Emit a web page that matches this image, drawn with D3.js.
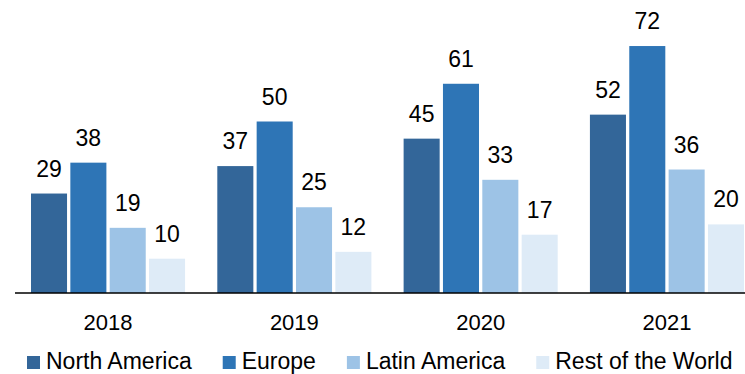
<!DOCTYPE html>
<html>
<head>
<meta charset="utf-8">
<script src="https://cdn.jsdelivr.net/npm/d3@7"></script>
<style>
  html, body { margin: 0; padding: 0; background: #fff; }
  svg { display: block; }
  text { font-family: "Liberation Sans", Arial, sans-serif; fill: #000; }
</style>
</head>
<body>
<svg id="chart" width="745" height="374"></svg>
<script>
// Yearly values by region
const years = ["2018", "2019", "2020", "2021"];
const regions = ["North America", "Europe", "Latin America", "Rest of the World"];
const northAmerica = [29, 37, 45, 52];
const europe = [38, 50, 61, 72];
const latinAmerica = [19, 25, 33, 36];
const restOfWorld = [10, 12, 17, 20];
const colors = ["#336699", "#2e75b6", "#9dc3e6", "#deebf7"];

const seriesValues = [northAmerica, europe, latinAmerica, restOfWorld];
const rows = years.map((yr, i) => ({
  year: yr,
  values: regions.map((r, k) => ({ region: r, value: seriesValues[k][i] }))
}));

const svg = d3.select("#chart");
const baseY = 293;

const x0 = d3.scaleBand().domain(years).range([31, 744]).paddingInner(0.173).paddingOuter(0);
const x1 = d3.scaleBand().domain(regions).range([0, x0.bandwidth()]).paddingInner(0.084).paddingOuter(0);
const y = d3.scaleLinear().domain([0, 80]).range([baseY, baseY - 80 * 3.43]);
const color = d3.scaleOrdinal().domain(regions).range(colors);

const groups = svg.selectAll("g.year")
  .data(rows)
  .join("g")
  .attr("class", "year")
  .attr("transform", d => `translate(${x0(d.year)},0)`);

groups.selectAll("rect")
  .data(d => d.values)
  .join("rect")
  .attr("x", d => x1(d.region))
  .attr("y", d => y(d.value))
  .attr("width", x1.bandwidth())
  .attr("height", d => y(0) - y(d.value))
  .attr("fill", d => color(d.region));

groups.selectAll("text.val")
  .data(d => d.values)
  .join("text")
  .attr("class", "val")
  .attr("x", d => x1(d.region) + x1.bandwidth() / 2)
  .attr("y", d => y(d.value) - 17)
  .attr("text-anchor", "middle")
  .style("font-size", "23px")
  .text(d => d.value);

// Baseline axis with year labels
const axis = d3.axisBottom(x0).tickSize(0).tickPadding(0);
const axisG = svg.append("g").attr("transform", `translate(0,${baseY})`).call(axis);
axisG.select(".domain").remove();
axisG.selectAll("text")
  .attr("dy", null)
  .attr("y", 37)
  .style("font-size", "22px")
  .style("font-family", "'Liberation Sans', Arial, sans-serif")
  .attr("fill", "#000");

svg.append("line")
  .attr("x1", 15).attr("x2", 745)
  .attr("y1", baseY).attr("y2", baseY)
  .attr("stroke", "#000").attr("stroke-width", 1.5);

// Legend
const legend = svg.append("g").attr("transform", "translate(27,0)");
let lx = 0;
regions.forEach(r => {
  const g = legend.append("g").attr("transform", `translate(${lx},0)`);
  g.append("rect").attr("x", 0).attr("y", 356).attr("width", 13).attr("height", 13).attr("fill", color(r));
  const t = g.append("text").attr("x", 19).attr("y", 368.5).style("font-size", "23px").text(r);
  lx += 19 + t.node().getComputedTextLength() + 31;
});
</script>
</body>
</html>
